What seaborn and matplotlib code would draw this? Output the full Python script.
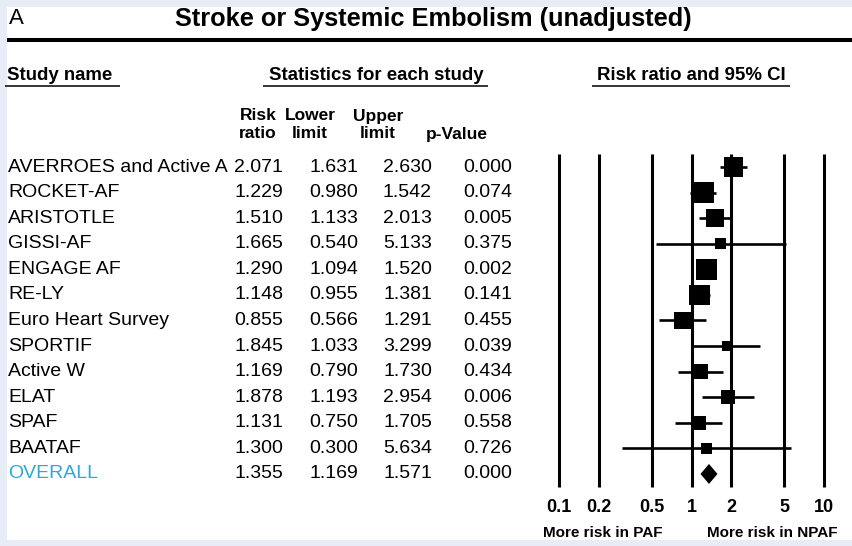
import matplotlib
matplotlib.use("Agg")
import matplotlib.pyplot as plt
import seaborn as sns
import numpy as np
import pandas as pd
from matplotlib.lines import Line2D
from matplotlib.patches import Rectangle

# ---------------- data ----------------
studies = ["AVERROES and Active A", "ROCKET-AF", "ARISTOTLE", "GISSI-AF", "ENGAGE AF",
           "RE-LY", "Euro Heart Survey", "SPORTIF", "Active W", "ELAT", "SPAF", "BAATAF"]
risk_ratio = [2.071, 1.229, 1.510, 1.665, 1.290, 1.148, 0.855, 1.845, 1.169, 1.878, 1.131, 1.300]
lower = [1.631, 0.980, 1.133, 0.540, 1.094, 0.955, 0.566, 1.033, 0.790, 1.193, 0.750, 0.300]
upper = [2.630, 1.542, 2.013, 5.133, 1.520, 1.381, 1.291, 3.299, 1.730, 2.954, 1.705, 5.634]
p_value = [0.000, 0.074, 0.005, 0.375, 0.002, 0.141, 0.455, 0.039, 0.434, 0.006, 0.558, 0.726]
# relative weights
weights = [11.4, 12.7, 10.3, 3.8, 14.0, 12.7, 9.1, 3.2, 7.1, 5.8, 6.2, 3.8]

overall_label = "OVERALL"
overall_rr, overall_lo, overall_hi, overall_p = 1.355, 1.169, 1.571, 0.000

x_ticks = [0.1, 0.2, 0.5, 1, 2, 5, 10]
x_tick_labels = ["0.1", "0.2", "0.5", "1", "2", "5", "10"]

title = "Stroke or Systemic Embolism (unadjusted)"
panel_label = "A"
left_note = "More risk in PAF"
right_note = "More risk in NPAF"

# ---------------- figure ----------------
sns.set_style("white")
plt.rcParams["font.family"] = ["Liberation Sans", "DejaVu Sans"]
plt.rcParams["text.color"] = "black"
plt.rcParams["xtick.color"] = "black"

W, H = 852, 546
fig = plt.figure(figsize=(W / 100, H / 100), dpi=100)
fig.patch.set_facecolor("#e8ecf7")
fig.patches.append(Rectangle((7 / W, 1 - 540 / H), (W - 7) / W, (540 - 7) / H,
                             transform=fig.transFigure, facecolor="white",
                             edgecolor="none", zorder=-5))


def fx(x):
    return x / W


def fy(y):
    return 1 - y / H


def hline(x0, x1, y, lw):
    fig.lines.append(Line2D([fx(x0), fx(x1)], [fy(y), fy(y)], transform=fig.transFigure,
                            color="black", lw=lw, solid_capstyle="butt"))


# Title area
fig.text(fx(9), fy(19), panel_label, fontsize=16, va="center", ha="left")
fig.text(fx(433), fy(19), title, fontsize=18.3, weight="bold", va="center", ha="center")
hline(7, 852, 40, 2.9)

# Section headers
HS = 13.4
fig.text(fx(7), fy(76), "Study name", fontsize=HS, weight="bold", va="center", ha="left")
hline(5, 120, 86, 1.1)
fig.text(fx(376), fy(76), "Statistics for each study", fontsize=HS, weight="bold",
         va="center", ha="center")
hline(263, 488, 86, 1.1)
fig.text(fx(691), fy(76), "Risk ratio and 95% CI", fontsize=HS, weight="bold",
         va="center", ha="center")
hline(592, 790, 86, 1.1)

# Column headers
col_centers = [258, 310, 378, 457]
col_heads = [("Risk", "ratio"), ("Lower", "limit"), ("Upper", "limit"), ("", "p-Value")]
for cx, (a, b) in zip(col_centers, col_heads):
    if a:
        fig.text(fx(cx), fy(116), a, fontsize=12.5, weight="bold", va="center", ha="center")
    fig.text(fx(cx), fy(134), b, fontsize=12.5, weight="bold", va="center", ha="center")

# Table rows
FS = 14
row0, dy = 167, 25.58
col_right = [283, 358, 432, 512]
for i, name in enumerate(studies):
    y = row0 + i * dy
    fig.text(fx(8), fy(y), name, fontsize=FS, va="center", ha="left")
    vals = [risk_ratio[i], lower[i], upper[i], p_value[i]]
    for xr, v in zip(col_right, vals):
        fig.text(fx(xr), fy(y), f"{v:.3f}", fontsize=FS, va="center", ha="right")
yo = row0 + len(studies) * dy
fig.text(fx(8), fy(yo), overall_label, fontsize=FS, va="center", ha="left", color="#29a9e0")
for xr, v in zip(col_right, [overall_rr, overall_lo, overall_hi, overall_p]):
    fig.text(fx(xr), fy(yo), f"{v:.3f}", fontsize=FS, va="center", ha="right")

# Forest plot axes
x0p, x1p, y0p, y1p = 559, 824, 154, 487
ax = fig.add_axes([fx(x0p), fy(y1p), (x1p - x0p) / W, (y1p - y0p) / H])
ax.set_xscale("log")
ax.set_xlim(0.1, 10)
ymin_idx = (y0p - row0) / dy
ymax_idx = (y1p - row0) / dy
ax.set_ylim(ymax_idx, ymin_idx)
ax.patch.set_alpha(0)
for s in ax.spines.values():
    s.set_visible(False)

ax.vlines(x_ticks, ymax_idx, ymin_idx, color="black", lw=2.2, clip_on=False, zorder=1)

df = pd.DataFrame({"study": studies, "rr": risk_ratio, "lo": lower, "hi": upper,
                   "w": weights, "row": np.arange(len(studies))})
ax.hlines(df["row"], df["lo"], df["hi"], color="black", lw=1.9, zorder=2)
sizes = np.array(weights) * 16.8
sns.scatterplot(data=df, x="rr", y="row", marker="s", s=sizes, color="black",
                edgecolor="black", linewidth=0, ax=ax, zorder=3, legend=False)

# overall diamond
r = len(studies)
ax.fill([overall_lo, overall_rr, overall_hi, overall_rr],
        [r, r - 0.39, r, r + 0.39], color="black", zorder=3, lw=0)

ax.set_xticks(x_ticks)
ax.set_xticklabels(x_tick_labels, fontsize=13, weight="bold")
ax.xaxis.set_minor_locator(matplotlib.ticker.NullLocator())
ax.tick_params(axis="x", length=0, pad=9, colors="black")
ax.set_yticks([])
ax.set_xlabel("")
ax.set_ylabel("")

fig.text(fx(602.5), fy(533), left_note, fontsize=11, weight="bold", va="center", ha="center")
fig.text(fx(772.5), fy(533), right_note, fontsize=11, weight="bold", va="center", ha="center")

fig.savefig("out.png", dpi=100, facecolor=fig.get_facecolor())
